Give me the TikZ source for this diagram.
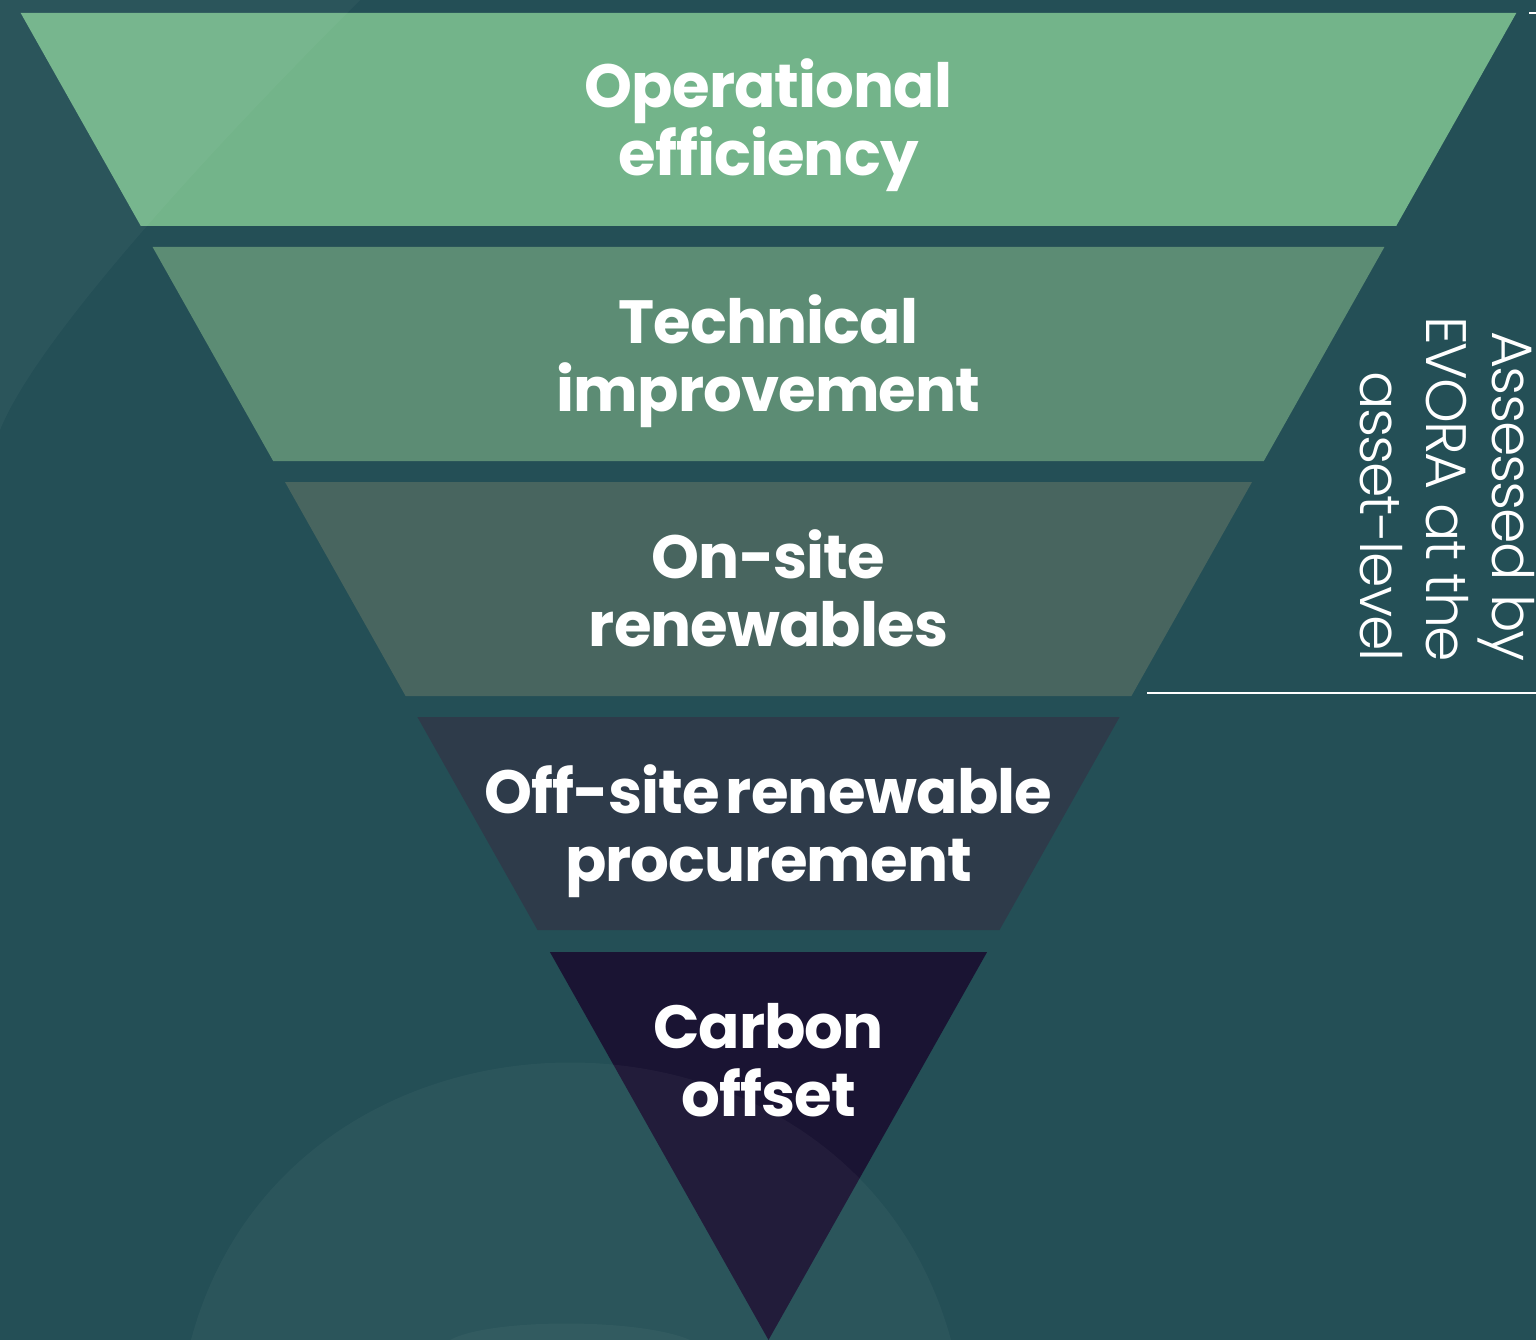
\documentclass[tikz,border=0pt]{standalone}
\usepackage{fontspec}
\newfontfamily\labelfont{Poppins}[UprightFont=* Bold, LetterSpace=-1.5, WordSpace=0.5]
\newfontfamily\lightfont{Poppins}[UprightFont=* Light, LetterSpace=-3.5]
\definecolor{bg}{HTML}{244F56}
\definecolor{bandA}{HTML}{73B48A}
\definecolor{bandB}{HTML}{5C8C74}
\definecolor{bandC}{HTML}{48655F}
\definecolor{bandD}{HTML}{2E3B4A}
\definecolor{bandE}{HTML}{1A1433}
\begin{document}
\begin{tikzpicture}[x=1pt,y=-1pt,
  lbl/.style={font=\labelfont\fontsize{61}{68}\selectfont, text=white, anchor=base, inner sep=0pt},
  side/.style={font=\lightfont\fontsize{57}{66}\selectfont, text=white, anchor=base east, rotate=-90, inner sep=0pt},
  glow/.style={fill=white, fill opacity=0.035},
  rule/.style={draw=white, line width=2pt}]
\fill[bg] (0,0) rectangle (1536,1340);
\useasboundingbox (0,0) rectangle (1536,1340);
% bands of the inverted triangle
\fill[bandA] (20.7,13) -- (1516.3,13) -- (1396.2,226) -- (140.8,226) -- cycle;
\fill[bandB] (152.6,247) -- (1384.4,247) -- (1263.8,461) -- (273.2,461) -- cycle;
\fill[bandC] (285.0,482) -- (1252.0,482) -- (1131.4,696) -- (405.6,696) -- cycle;
\fill[bandD] (417.4,717) -- (1119.6,717) -- (999.5,930) -- (537.5,930) -- cycle;
\fill[bandE] (549.9,952) -- (987.1,952) -- (768.5,1340) -- cycle;
% faint background shapes
\fill[glow] (0,0) -- (360,0) .. controls (240,120) and (40,330) .. (0,430) -- cycle;
\fill[glow] (191,1340) .. controls (290,970) and (850,970) .. (951,1340) -- cycle;
\fill[glow] (450,1340) .. controls (490,1318) and (640,1318) .. (690,1340) -- cycle;
% labels
\node[lbl] (t1a) at (768.5,108) {Operational};
\node[lbl] (t1b) at (768.5,176) {efficiency};
\node[lbl] (t2a) at (768.5,343) {Technical};
\node[lbl] (t2b) at (768.5,411) {improvement};
\node[lbl] (t3a) at (768.5,578) {On-site};
\node[lbl] (t3b) at (768.5,646) {renewables};
\node[lbl] (t4a) at (768.5,813) {Off-site renewable};
\node[lbl] (t4b) at (768.5,881) {procurement};
\node[lbl] (t5a) at (768.5,1048) {Carbon};
\node[lbl] (t5b) at (768.5,1116) {offset};
% side note
\node[side] (s1) at (1492,662) {Assessed by};
\node[side] (s2) at (1426,662) {EVORA at the};
\node[side] (s3) at (1360,662) {asset-level};
\coordinate (rl) at (1147,693);
\coordinate (rr) at (1536,693);
\draw[rule] (rl) -- (rr);
\coordinate (tl) at (1529,13);
\coordinate (tr) at (1536,13);
\draw[rule] (tl) -- (tr);
\end{tikzpicture}
\end{document}
